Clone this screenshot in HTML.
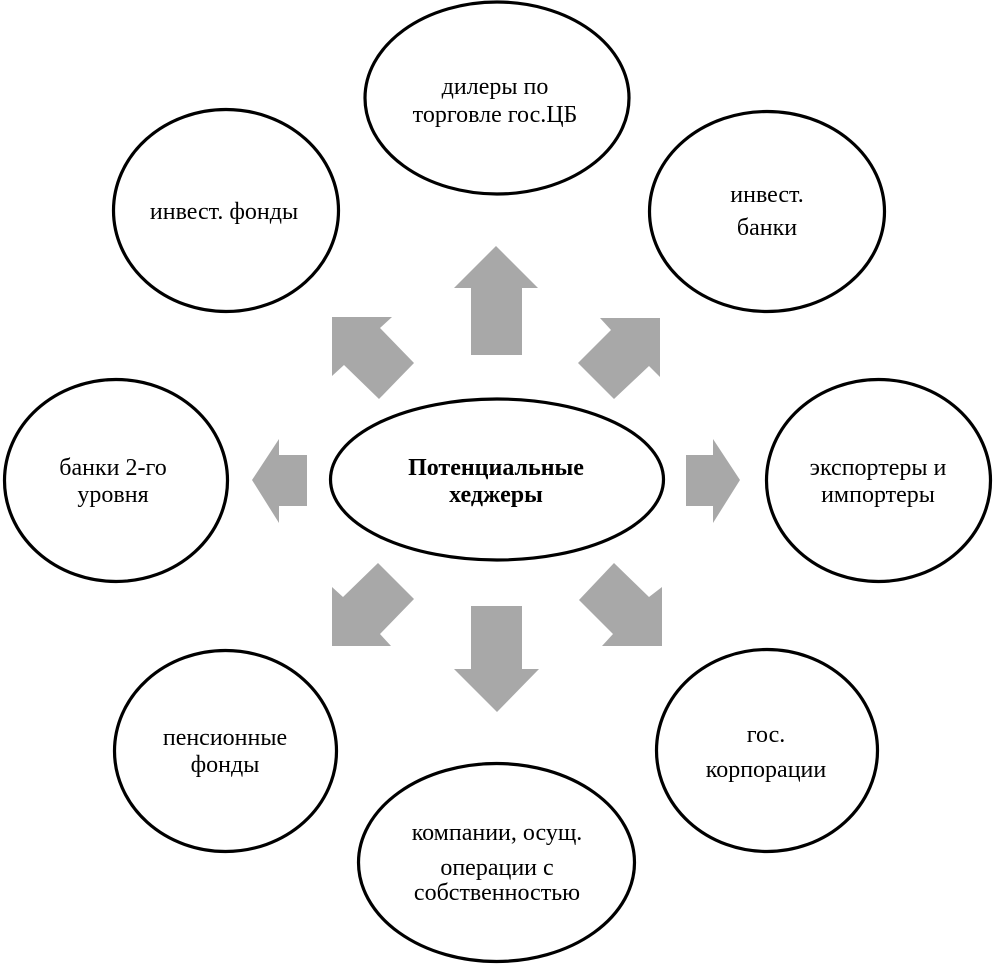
<!DOCTYPE html>
<html>
<head>
<meta charset="utf-8">
<style>
  html, body { margin:0; padding:0; background:#fff; }
  svg { display:block; }
  text { font-family: "Liberation Serif", "DejaVu Serif", serif; font-size:24px; fill:#000; }
  .b { font-weight:bold; }
</style>
</head>
<body>
<svg width="993" height="965" viewBox="0 0 993 965" xmlns="http://www.w3.org/2000/svg">
  <rect width="993" height="965" fill="#fff"/>

  <!-- arrows -->
  <g fill="#a8a8a8">
    <polygon points="496,246 538,288 522,288 522,355 471,355 471,288 454,288"/>
    <polygon points="332,317 392,317 380,328 414,363 379,399 344,365 332,376"/>
    <polygon points="600,318 660,318 660,377 649,366 614,399 578,363 611,330"/>
    <polygon points="252,480 279,439 279,455 307,455 307,506 279,506 279,523"/>
    <polygon points="740,480 713,439 713,455 686,455 686,506 713,506 713,523"/>
    <polygon points="332,587 343,597 378,563 414,599 380,634 391,646 332,646"/>
    <polygon points="614,563 649,597 662,587 662,646 602,646 613,634 579,600"/>
    <polygon points="471,606 522,606 522,669 539,669 497,712 454,669 471,669"/>
  </g>

  <!-- ellipses -->
  <g fill="#fff" stroke="#000" stroke-width="3.2">
    <ellipse cx="497" cy="98" rx="132" ry="96"/>
    <ellipse cx="226" cy="210.5" rx="112.5" ry="101"/>
    <ellipse cx="767" cy="211.5" rx="117.5" ry="100"/>
    <ellipse cx="116" cy="480.5" rx="111.5" ry="101"/>
    <ellipse cx="878.5" cy="480.5" rx="112" ry="101"/>
    <ellipse cx="225.5" cy="751" rx="111" ry="100.5"/>
    <ellipse cx="767" cy="750.5" rx="110.5" ry="101"/>
    <ellipse cx="496.5" cy="862.5" rx="138" ry="99"/>
    <ellipse cx="497" cy="479.5" rx="166.5" ry="80.5"/>
  </g>

  <!-- labels -->
  <g text-anchor="middle">
    <text x="495" y="94">дилеры по</text>
    <text x="495" y="122">торговле гос.ЦБ</text>

    <text x="224" y="219">инвест. фонды</text>

    <text x="767" y="202">инвест.</text>
    <text x="767" y="235">банки</text>

    <text x="113" y="475">банки 2-го</text>
    <text x="113" y="502">уровня</text>

    <text x="878" y="475">экспортеры и</text>
    <text x="878" y="502">импортеры</text>

    <text class="b" x="496" y="475">Потенциальные</text>
    <text class="b" x="496" y="502">хеджеры</text>

    <text x="225" y="745">пенсионные</text>
    <text x="225" y="772">фонды</text>

    <text x="766" y="742">гос.</text>
    <text x="766" y="777">корпорации</text>

    <text x="497" y="840">компании, осущ.</text>
    <text x="497" y="875">операции с</text>
    <text x="497" y="900">собственностью</text>
  </g>
</svg>
</body>
</html>
